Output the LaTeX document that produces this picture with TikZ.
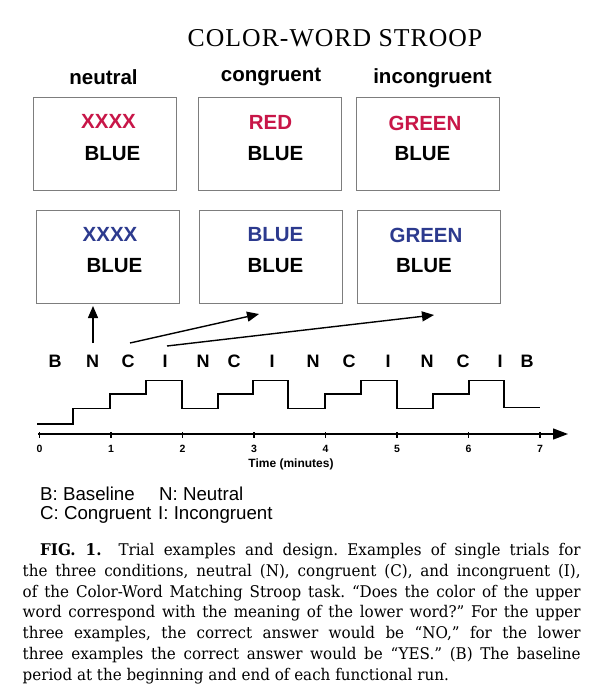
\documentclass[tikz,border=0pt]{standalone}
\usepackage{fontspec}
\setmainfont{DejaVu Serif}
\setsansfont{Liberation Sans}
\newfontfamily\titlefont[LetterSpace=4]{Liberation Serif}
\newfontfamily\capfont[FakeStretch=0.94]{DejaVu Serif}
\usetikzlibrary{arrows.meta}
\definecolor{wordred}{RGB}{200,22,72}
\definecolor{wordblue}{RGB}{44,58,142}
\definecolor{boxgray}{RGB}{125,125,125}
\tikzset{
  trialbox/.style={draw=boxgray, line width=0.8pt, minimum width=143pt, minimum height=93pt, inner sep=0pt},
  word/.style={font=\sffamily\bfseries\fontsize{20.5}{24}\selectfont, inner sep=0pt},
  header/.style={font=\sffamily\bfseries\fontsize{20.5}{24}\selectfont, inner sep=0pt, anchor=base},
  conn/.style={line width=1.4pt, -{Triangle[length=12pt,width=10pt]}},
  seqletter/.style={font=\sffamily\bfseries\fontsize{18}{20}\selectfont, inner sep=0pt},
  stepline/.style={line width=1.4pt, line join=miter},
  axisline/.style={line width=1.3pt, -{Triangle[length=15pt,width=11pt]}},
  tickline/.style={line width=1.2pt},
  ticklabel/.style={font=\sffamily\bfseries\fontsize{10.5}{12}\selectfont, inner sep=0pt},
  legendtext/.style={font=\sffamily\fontsize{18.7}{22}\selectfont, inner sep=0pt, anchor=base west},
}
\begin{document}
\frenchspacing
\begin{tikzpicture}[x=1pt,y=-1pt]
\useasboundingbox (0,0) rectangle (592,699);
\fill[white] (0,0) rectangle (592,699);

% title
\node[font=\titlefont\fontsize{25.7}{30}\selectfont, anchor=base, inner sep=0pt] (title) at (335,46.7) {COLOR-WORD STROOP};

% headers
\node[header] (hN) at (103.5,84) {neutral};
\node[header] (hC) at (271,81) {congruent};
\node[header] (hI) at (432.5,83) {incongruent};

% boxes
\node[trialbox] (t1) at (105,144) {};
\node[trialbox] (t2) at (269.5,143.5) {};
\node[trialbox] (t3) at (427.5,143.5) {};
\node[trialbox] (b1) at (108,256.5) {};
\node[trialbox] (b2) at (270.5,256.5) {};
\node[trialbox] (b3) at (429,256.5) {};

% words, top row
\node[word, text=wordred] (t1u) at (108.5,121.5) {XXXX};
\node[word] (t1l) at (112.5,153.5) {BLUE};
\node[word, text=wordred] (t2u) at (270.5,122) {RED};
\node[word] (t2l) at (275.5,153.5) {BLUE};
\node[word, text=wordred] (t3u) at (425,123.5) {GREEN};
\node[word] (t3l) at (422.5,153.5) {BLUE};

% words, bottom row
\node[word, text=wordblue] (b1u) at (110,234) {XXXX};
\node[word] (b1l) at (114.5,266) {BLUE};
\node[word, text=wordblue] (b2u) at (275.5,234.5) {BLUE};
\node[word] (b2l) at (275.5,265.5) {BLUE};
\node[word, text=wordblue] (b3u) at (426,235) {GREEN};
\node[word] (b3l) at (424,265.5) {BLUE};

% arrows
\coordinate (a1s) at (93,343);
\coordinate (a1e) at (93,306);
\coordinate (a2s) at (130,343);
\coordinate (a2e) at (259,314);
\coordinate (a3s) at (167,346);
\coordinate (a3e) at (434,315);
\draw[conn] (a1s) -- (a1e);
\draw[conn] (a2s) -- (a2e);
\draw[conn] (a3s) -- (a3e);

% sequence letters
\foreach \x/\l [count=\i] in {55/B, 92.5/N, 128/C, 165/I, 203/N, 234/C, 272/I, 313/N, 349/C, 388/I, 427/N, 463/C, 500/I, 527/B}
  \node[seqletter] (s\i) at (\x,361.5) {\l};

% block design
\draw[stepline] (37,424) -- (73,424) -- (73,408.5) -- (110,408.5) -- (110,394) -- (146,394) -- (146,380.5) -- (182,380.5)
  -- (182,408.5) -- (218,408.5) -- (218,394) -- (253,394) -- (253,380.5) -- (288,380.5)
  -- (288,408.5) -- (325,408.5) -- (325,394) -- (361,394) -- (361,380.5) -- (397,380.5)
  -- (397,408.5) -- (433,408.5) -- (433,394) -- (469,394) -- (469,380.5) -- (504,380.5)
  -- (504,407.5) -- (540,407.5);

% time axis
\coordinate (ax0) at (38,434);
\coordinate (ax1) at (568,434);
\draw[axisline] (ax0) -- (ax1);
\foreach \t in {0,...,7} {
  \pgfmathsetmacro{\tx}{39.5+71.5*\t}
  \draw[tickline] (\tx,432) -- (\tx,438);
  \node[ticklabel] (tk\t) at (\tx,448.5) {\t};
}
\node[font=\sffamily\bfseries\fontsize{12}{14}\selectfont, inner sep=0pt] (tlabel) at (291,464) {Time (minutes)};

% legend
\node[legendtext] (lB) at (40,500) {B: Baseline};
\node[legendtext] (lN) at (159,500) {N: Neutral};
\node[legendtext] (lC) at (40,519.5) {C: Congruent};
\node[legendtext] (lI) at (158,519.5) {I: Incongruent};

% caption
\node[anchor=north west, inner sep=0pt, align=left, font=\capfont\fontsize{16.1}{20.8}\selectfont] (cap) at (22.5,543) {%
\makebox[558pt][s]{\hspace*{17.5pt}\textbf{FIG. 1.}\hspace{17pt}Trial examples and design. Examples of single trials for}\\
\makebox[558pt][s]{the three conditions, neutral (N), congruent (C), and incongruent (I),}\\
\makebox[558pt][s]{of the Color-Word Matching Stroop task. “Does the color of the upper}\\
\makebox[558pt][s]{word correspond with the meaning of the lower word?” For the upper}\\
\makebox[558pt][s]{three examples, the correct answer would be “NO,” for the lower}\\
\makebox[558pt][s]{three examples the correct answer would be “YES.” (B) The baseline}\\
period at the beginning and end of each functional run.};
\end{tikzpicture}
\end{document}
